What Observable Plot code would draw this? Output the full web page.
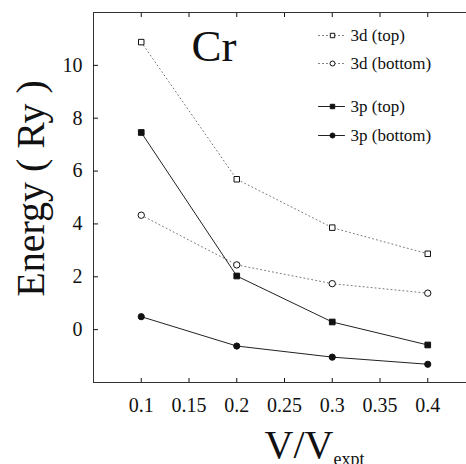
<!DOCTYPE html>
<html><head><meta charset="utf-8">
<script src="https://cdn.jsdelivr.net/npm/d3@7"></script>
<script src="https://cdn.jsdelivr.net/npm/@observablehq/plot@0.6"></script>
<style>
html,body{margin:0;padding:0;background:#fff;overflow:hidden;width:466px;height:464px}
#chart svg{max-width:none !important;height:464px !important}
#chart svg, #chart svg text{font-family:'Liberation Serif','Times New Roman',Times,serif !important}
</style></head><body><div id="chart"></div>
<script>
// ---- data ----
const volumes = [0.1, 0.2, 0.3, 0.4];
const d3Top = [10.88, 5.69, 3.86, 2.87];
const d3Bottom = [4.33, 2.45, 1.74, 1.38];
const p3Top = [7.46, 2.03, 0.29, -0.58];
const p3Bottom = [0.49, -0.62, -1.04, -1.31];
const seriesNames = ["3d (top)", "3d (bottom)", "3p (top)", "3p (bottom)"];
const xTicks = [0.1, 0.15, 0.2, 0.25, 0.3, 0.35, 0.4];
const yTicks = [0, 2, 4, 6, 8, 10];
const panelTitle = "Cr";
const yLabel = "Energy ( Ry )";
const xLabelMain = "V/V";
const xLabelSub = "expt";

// ---- styling ----
const serif = "'Liberation Serif','Times New Roman',Times,serif";
const dottedStroke = "#777";
const solidStroke = "#222";
const styles = [
  {values: d3Top, stroke: dottedStroke, dash: "1,3", symbol: "square", fill: "#fff", r: 3.1},
  {values: d3Bottom, stroke: dottedStroke, dash: "1,3", symbol: "circle", fill: "#fff", r: 3.2},
  {values: p3Top, stroke: solidStroke, dash: null, symbol: "square", fill: "#111", r: 3.2},
  {values: p3Bottom, stroke: solidStroke, dash: null, symbol: "circle", fill: "#111", r: 3.1}
];
const rowsFor = (vals) => volumes.map((v, i) => ({x: v, y: vals[i]}));
const legendDy = [23, 51, 94, 123];
const lineShape = {draw(ctx, l) { ctx.moveTo(0, 0); ctx.lineTo(0, -l); }};

const marks = [
  Plot.frame({stroke: "#333"}),
  Plot.axisX({ticks: xTicks, tickSize: -4, tickPadding: 19, fontSize: 20, label: null, tickFormat: d => String(d), fontFamily: serif}),
  Plot.axisX({anchor: "top", ticks: xTicks, tickSize: -4, tickFormat: () => "", label: null}),
  Plot.axisY({ticks: yTicks, tickSize: -5, tickPadding: 16, fontSize: 20, label: null, fontFamily: serif})
];
styles.forEach((s, i) => {
  const rows = rowsFor(s.values);
  marks.push(Plot.line(rows, {x: "x", y: "y", stroke: s.stroke, strokeWidth: 1, strokeDasharray: s.dash}));
  marks.push(Plot.dot(rows, {x: "x", y: "y", symbol: s.symbol, r: s.r, stroke: "#111", strokeWidth: 1, fill: s.fill}));
  // legend
  marks.push(Plot.vector([0], {frameAnchor: "top-left", dx: 225, dy: legendDy[i], length: 26, rotate: 90, anchor: "start", shape: lineShape, stroke: s.stroke, strokeWidth: 1, strokeDasharray: s.dash}));
  marks.push(Plot.dot([0], {frameAnchor: "top-left", dx: 239, dy: legendDy[i], symbol: s.symbol, r: 2.5, stroke: "#111", strokeWidth: 1, fill: s.fill}));
  marks.push(Plot.text([seriesNames[i]], {text: d => d, frameAnchor: "top-left", dx: 257, dy: legendDy[i], textAnchor: "start", lineAnchor: "middle", fontSize: 17, fill: "#111", fontFamily: serif}));
});
marks.push(Plot.text([panelTitle], {text: d => d, frameAnchor: "top-left", dx: 98, dy: 34, textAnchor: "start", lineAnchor: "middle", fontSize: 45, fill: "#111", fontFamily: serif}));
marks.push(Plot.text([yLabel], {text: d => d, frameAnchor: "left", dx: -62, dy: -9, rotate: -90, textAnchor: "middle", lineAnchor: "middle", fontSize: 40, fill: "#111", fontFamily: serif}));
marks.push(Plot.text([xLabelMain], {text: d => d, frameAnchor: "bottom-left", dx: 240, dy: 63, textAnchor: "end", lineAnchor: "middle", fontSize: 40, fill: "#111", fontFamily: serif, style: "letter-spacing:4px"}));
marks.push(Plot.text([xLabelSub], {text: d => d, frameAnchor: "bottom-left", dx: 240, dy: 77, textAnchor: "start", lineAnchor: "middle", fontSize: 18, fill: "#111", fontFamily: serif}));

const plot = Plot.plot({
  width: 480, height: 464,
  marginLeft: 93, marginRight: 5, marginTop: 12, marginBottom: 82,
  style: {fontFamily: serif, background: "#fff", color: "#111", maxWidth: "none"},
  x: {domain: [0.05, 0.45]},
  y: {domain: [-2, 12]},
  marks
});
plot.style.maxWidth = "none";
plot.style.height = "464px";
document.getElementById("chart").append(plot);
</script></body></html>
